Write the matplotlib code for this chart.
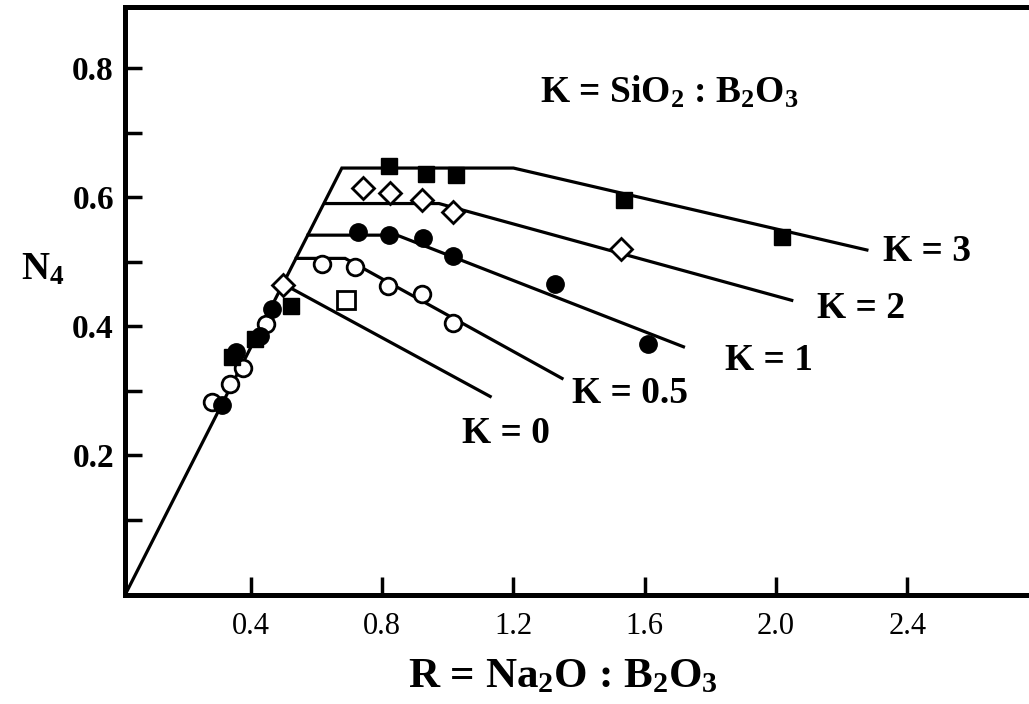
import matplotlib
matplotlib.use("Agg")
import matplotlib.pyplot as plt
import numpy as np

plt.rcParams['font.family'] = ['Liberation Serif', 'DejaVu Serif']
plt.rcParams['mathtext.fontset'] = 'custom'
plt.rcParams['mathtext.rm'] = 'Liberation Serif:bold'
plt.rcParams['mathtext.it'] = 'Liberation Serif:bold'
plt.rcParams['mathtext.bf'] = 'Liberation Serif:bold'
plt.rcParams['mathtext.default'] = 'rm'

# ---- model lines (R, N4) ----
line_k3_x = [0.016, 0.677, 1.200, 2.277]
line_k3_y = [-0.017, 0.645, 0.645, 0.518]
line_k2_x = [0.625, 0.973, 2.048]
line_k2_y = [0.590, 0.590, 0.440]
line_k1_x = [0.574, 0.845, 1.718]
line_k1_y = [0.541, 0.541, 0.368]
line_k05_x = [0.538, 0.687, 1.348]
line_k05_y = [0.505, 0.505, 0.319]
line_k0_x = [0.485, 1.129]
line_k0_y = [0.469, 0.291]

# ---- experimental points ----
sq_fill_x = [0.821, 0.934, 1.025, 1.537, 2.018, 0.522, 0.412, 0.342]
sq_fill_y = [0.648, 0.636, 0.635, 0.596, 0.538, 0.431, 0.380, 0.352]
dia_open_x = [0.742, 0.824, 0.920, 1.017, 1.527, 0.497]
dia_open_y = [0.614, 0.607, 0.595, 0.577, 0.520, 0.464]
circ_fill_x = [0.727, 0.822, 0.925, 1.017, 1.327, 1.611, 0.463, 0.428, 0.354, 0.312]
circ_fill_y = [0.546, 0.541, 0.536, 0.508, 0.466, 0.373, 0.426, 0.384, 0.360, 0.278]
circ_open_x = [0.616, 0.717, 0.819, 0.920, 1.017, 0.446, 0.377, 0.336, 0.280]
circ_open_y = [0.497, 0.492, 0.462, 0.450, 0.405, 0.403, 0.335, 0.310, 0.282]
sq_open_x = [0.690]
sq_open_y = [0.440]

k_labels = ['K = 3', 'K = 2', 'K = 1', 'K = 0.5', 'K = 0']
k_label_x = [2.327, 2.125, 1.845, 1.378, 1.043]
k_label_y = [0.515, 0.427, 0.346, 0.296, 0.234]

x_ticks = [0.4, 0.8, 1.2, 1.6, 2.0, 2.4]
x_ticklabels = ['0.4', '0.8', '1.2', '1.6', '2.0', '2.4']
y_ticks = [0.2, 0.4, 0.6, 0.8]
y_ticklabels = ['0.2', '0.4', '0.6', '0.8']
y_minor = [0.1, 0.3, 0.5, 0.7]

fig = plt.figure(figsize=(10.29, 7.04), dpi=100)
W, H = 1029, 704
ax = fig.add_axes([125 / W, (H - 595) / H, (W - 125) / W, (595 - 7) / H])
ax.set_xlim(0.0162, 2.771)
ax.set_ylim(-0.0167, 0.8946)

lw = 2.3
for xs, ys in [(line_k3_x, line_k3_y), (line_k2_x, line_k2_y), (line_k1_x, line_k1_y),
               (line_k05_x, line_k05_y), (line_k0_x, line_k0_y)]:
    ax.plot(xs, ys, color='black', lw=lw, solid_joinstyle='miter', zorder=2)

ax.plot(circ_open_x, circ_open_y, 'o', ms=12, mfc='white', mec='black', mew=2, zorder=3)
ax.plot(circ_fill_x, circ_fill_y, 'o', ms=12.5, mfc='black', mec='black', mew=1, zorder=4)
ax.plot(dia_open_x, dia_open_y, 'D', ms=11.5, mfc='white', mec='black', mew=2, zorder=3)
ax.plot(sq_fill_x, sq_fill_y, 's', ms=11.5, mfc='black', mec='black', mew=1, zorder=4)
ax.plot(sq_open_x, sq_open_y, 's', ms=12.5, mfc='white', mec='black', mew=2, zorder=3)

for t, x, y in zip(k_labels, k_label_x, k_label_y):
    ax.text(x, y, t, fontsize=27, fontweight='bold', ha='left', va='center')

ax.text(1.281, 0.763, r'K = SiO$_2$ : B$_2$O$_3$', fontsize=27, fontweight='bold',
        ha='left', va='center')

ax.spines['right'].set_visible(False)
for s in ['left', 'bottom', 'top']:
    ax.spines[s].set_linewidth(3.6)

ax.set_xticks(x_ticks)
ax.set_xticklabels(x_ticklabels, fontsize=22)
ax.set_yticks(y_ticks)
ax.set_yticklabels(y_ticklabels, fontsize=24, fontweight='bold')
ax.set_yticks(y_minor, minor=True)
ax.tick_params(axis='both', which='both', direction='in', width=2.5)
ax.tick_params(axis='y', which='both', length=12, pad=8)
ax.tick_params(axis='x', which='both', length=13, pad=12)
ax.tick_params(top=False, right=False)

fig.text(563 / W, (H - 677) / H, r'R = Na$_2$O : B$_2$O$_3$', fontsize=31,
         fontweight='bold', ha='center', va='center')
fig.text(43 / W, (H - 270) / H, r'N$_4$', fontsize=28, fontweight='bold',
         ha='center', va='center')

fig.savefig('out.png', dpi=100)
